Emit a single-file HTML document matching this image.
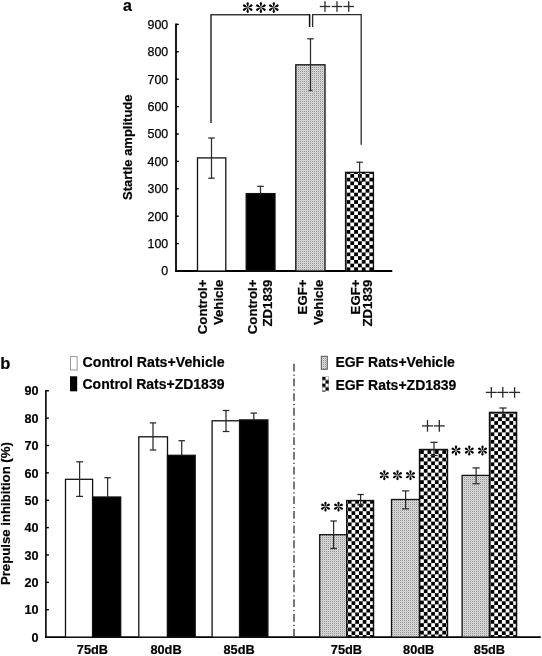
<!DOCTYPE html>
<html><head><meta charset="utf-8"><title>Figure</title>
<style>
html,body{margin:0;padding:0;background:#fff;width:542px;height:656px;overflow:hidden;}
svg{display:block;font-family:"Liberation Sans",sans-serif;will-change:transform;}
</style></head><body>
<svg width="542" height="656" viewBox="0 0 542 656"><defs><pattern id="dt1" patternUnits="userSpaceOnUse" x="296" y="65" width="2" height="2"><rect width="2" height="2" fill="#dcdcdc"/><rect x="0" y="0" width="1" height="1" fill="#909090"/><rect x="1" y="1" width="1" height="1" fill="#c8c8c8"/></pattern><pattern id="ck2" patternUnits="userSpaceOnUse" x="346.5" y="174.0" width="7.64" height="7.47"><rect width="7.64" height="7.47" fill="#fff"/><rect x="3.82" y="0" width="3.82" height="3.735" fill="#000"/><rect x="0" y="3.735" width="3.82" height="3.735" fill="#000"/></pattern><pattern id="dt3" patternUnits="userSpaceOnUse" x="321" y="356" width="2" height="2"><rect width="2" height="2" fill="#dcdcdc"/><rect x="0" y="0" width="1" height="1" fill="#909090"/><rect x="1" y="1" width="1" height="1" fill="#c8c8c8"/></pattern><pattern id="ck4" patternUnits="userSpaceOnUse" x="318.5" y="376.6" width="7.0" height="7.0"><rect width="7.0" height="7.0" fill="#fff"/><rect x="3.5" y="0" width="3.5" height="3.5" fill="#000"/><rect x="0" y="3.5" width="3.5" height="3.5" fill="#000"/></pattern><pattern id="dt5" patternUnits="userSpaceOnUse" x="320" y="535" width="2" height="2"><rect width="2" height="2" fill="#dcdcdc"/><rect x="0" y="0" width="1" height="1" fill="#909090"/><rect x="1" y="1" width="1" height="1" fill="#c8c8c8"/></pattern><pattern id="ck6" patternUnits="userSpaceOnUse" x="347.85" y="503.7" width="7.42" height="7.506"><rect width="7.42" height="7.506" fill="#fff"/><rect x="3.71" y="0" width="3.71" height="3.753" fill="#000"/><rect x="0" y="3.753" width="3.71" height="3.753" fill="#000"/></pattern><pattern id="dt7" patternUnits="userSpaceOnUse" x="392" y="500" width="2" height="2"><rect width="2" height="2" fill="#dcdcdc"/><rect x="0" y="0" width="1" height="1" fill="#909090"/><rect x="1" y="1" width="1" height="1" fill="#c8c8c8"/></pattern><pattern id="ck8" patternUnits="userSpaceOnUse" x="420.1" y="453.9" width="7.4" height="7.524"><rect width="7.4" height="7.524" fill="#fff"/><rect x="3.7" y="0" width="3.7" height="3.762" fill="#000"/><rect x="0" y="3.762" width="3.7" height="3.762" fill="#000"/></pattern><pattern id="dt9" patternUnits="userSpaceOnUse" x="462" y="475" width="2" height="2"><rect width="2" height="2" fill="#dcdcdc"/><rect x="0" y="0" width="1" height="1" fill="#909090"/><rect x="1" y="1" width="1" height="1" fill="#c8c8c8"/></pattern><pattern id="ck10" patternUnits="userSpaceOnUse" x="490.5" y="413.6" width="7.58" height="7.506"><rect width="7.58" height="7.506" fill="#fff"/><rect x="3.79" y="0" width="3.79" height="3.753" fill="#000"/><rect x="0" y="3.753" width="3.79" height="3.753" fill="#000"/></pattern></defs><text x="123" y="10.6" font-family="Liberation Sans" font-size="16" font-weight="bold" text-anchor="start" fill="#000" stroke="#000" stroke-width="0.2">a</text><line x1="176.0" y1="23.4" x2="176.0" y2="271.8" stroke="#000" stroke-width="1.8"/><text x="168.2" y="275.4" font-family="Liberation Sans" font-size="12.4" font-weight="normal" text-anchor="end" fill="#000" stroke="#000" stroke-width="0.25">0</text><line x1="176.0" y1="243.6" x2="178.8" y2="243.6" stroke="#000" stroke-width="1.4"/><text x="168.2" y="248.0" font-family="Liberation Sans" font-size="12.4" font-weight="normal" text-anchor="end" fill="#000" stroke="#000" stroke-width="0.25">100</text><line x1="176.0" y1="216.2" x2="178.8" y2="216.2" stroke="#000" stroke-width="1.4"/><text x="168.2" y="220.6" font-family="Liberation Sans" font-size="12.4" font-weight="normal" text-anchor="end" fill="#000" stroke="#000" stroke-width="0.25">200</text><line x1="176.0" y1="188.8" x2="178.8" y2="188.8" stroke="#000" stroke-width="1.4"/><text x="168.2" y="193.20000000000002" font-family="Liberation Sans" font-size="12.4" font-weight="normal" text-anchor="end" fill="#000" stroke="#000" stroke-width="0.25">300</text><line x1="176.0" y1="161.4" x2="178.8" y2="161.4" stroke="#000" stroke-width="1.4"/><text x="168.2" y="165.8" font-family="Liberation Sans" font-size="12.4" font-weight="normal" text-anchor="end" fill="#000" stroke="#000" stroke-width="0.25">400</text><line x1="176.0" y1="134.0" x2="178.8" y2="134.0" stroke="#000" stroke-width="1.4"/><text x="168.2" y="138.4" font-family="Liberation Sans" font-size="12.4" font-weight="normal" text-anchor="end" fill="#000" stroke="#000" stroke-width="0.25">500</text><line x1="176.0" y1="106.60000000000002" x2="178.8" y2="106.60000000000002" stroke="#000" stroke-width="1.4"/><text x="168.2" y="111.00000000000003" font-family="Liberation Sans" font-size="12.4" font-weight="normal" text-anchor="end" fill="#000" stroke="#000" stroke-width="0.25">600</text><line x1="176.0" y1="79.20000000000002" x2="178.8" y2="79.20000000000002" stroke="#000" stroke-width="1.4"/><text x="168.2" y="83.60000000000002" font-family="Liberation Sans" font-size="12.4" font-weight="normal" text-anchor="end" fill="#000" stroke="#000" stroke-width="0.25">700</text><line x1="176.0" y1="51.80000000000001" x2="178.8" y2="51.80000000000001" stroke="#000" stroke-width="1.4"/><text x="168.2" y="56.20000000000001" font-family="Liberation Sans" font-size="12.4" font-weight="normal" text-anchor="end" fill="#000" stroke="#000" stroke-width="0.25">800</text><line x1="176.0" y1="24.400000000000006" x2="178.8" y2="24.400000000000006" stroke="#000" stroke-width="1.4"/><text x="168.2" y="28.800000000000004" font-family="Liberation Sans" font-size="12.4" font-weight="normal" text-anchor="end" fill="#000" stroke="#000" stroke-width="0.25">900</text><line x1="175.1" y1="271.0" x2="392.3" y2="271.0" stroke="#000" stroke-width="1.8"/><rect x="197.5" y="157.9" width="28.30000000000001" height="113.1" fill="#fff" stroke="#111" stroke-width="1.3"/><rect x="246.2" y="193.6" width="28.80000000000001" height="77.4" fill="#000" stroke="#111" stroke-width="1.3"/><rect x="295.8" y="64.8" width="29.19999999999999" height="206.2" fill="url(#dt1)" stroke="#111" stroke-width="1.3"/><rect x="345.6" y="172.4" width="27.799999999999955" height="98.6" fill="url(#ck2)" stroke="#111" stroke-width="1.4"/><line x1="208.25" y1="138.0" x2="214.75" y2="138.0" stroke="#2a2a2a" stroke-width="1.25"/><line x1="211.5" y1="138.0" x2="211.5" y2="178.2" stroke="#2a2a2a" stroke-width="1.25"/><line x1="208.25" y1="178.2" x2="214.75" y2="178.2" stroke="#2a2a2a" stroke-width="1.25"/><line x1="257.25" y1="186.3" x2="263.75" y2="186.3" stroke="#2a2a2a" stroke-width="1.25"/><line x1="260.5" y1="186.3" x2="260.5" y2="194" stroke="#2a2a2a" stroke-width="1.25"/><line x1="307.25" y1="38.8" x2="313.75" y2="38.8" stroke="#2a2a2a" stroke-width="1.25"/><line x1="310.5" y1="38.8" x2="310.5" y2="91.0" stroke="#2a2a2a" stroke-width="1.25"/><line x1="308.6" y1="90.6" x2="312.4" y2="90.6" stroke="#2a2a2a" stroke-width="1"/><line x1="356.35" y1="162.2" x2="362.85" y2="162.2" stroke="#2a2a2a" stroke-width="1.25"/><line x1="359.6" y1="162.2" x2="359.6" y2="181.5" stroke="#2a2a2a" stroke-width="1.25"/><line x1="356.35" y1="181.5" x2="362.85" y2="181.5" stroke="#2a2a2a" stroke-width="1.25"/><text x="131.9" y="147.2" font-family="Liberation Sans" font-size="13" font-weight="bold" text-anchor="middle" fill="#000" stroke="#000" stroke-width="0.2" transform="rotate(-90 131.9 147.2)">Startle amplitude</text><text x="207.5" y="279.6" font-family="Liberation Sans" font-size="13.2" font-weight="bold" text-anchor="end" fill="#000" stroke="#000" stroke-width="0.2" transform="rotate(-90 207.5 279.6)">Control+</text><text x="222.8" y="279.6" font-family="Liberation Sans" font-size="13.2" font-weight="bold" text-anchor="end" fill="#000" stroke="#000" stroke-width="0.2" transform="rotate(-90 222.8 279.6)">Vehicle</text><text x="257.5" y="279.6" font-family="Liberation Sans" font-size="13.2" font-weight="bold" text-anchor="end" fill="#000" stroke="#000" stroke-width="0.2" transform="rotate(-90 257.5 279.6)">Control+</text><text x="272.2" y="279.6" font-family="Liberation Sans" font-size="13.2" font-weight="bold" text-anchor="end" fill="#000" stroke="#000" stroke-width="0.2" transform="rotate(-90 272.2 279.6)">ZD1839</text><text x="307.5" y="279.6" font-family="Liberation Sans" font-size="13.2" font-weight="bold" text-anchor="end" fill="#000" stroke="#000" stroke-width="0.2" transform="rotate(-90 307.5 279.6)">EGF+</text><text x="322.79999999999995" y="279.6" font-family="Liberation Sans" font-size="13.2" font-weight="bold" text-anchor="end" fill="#000" stroke="#000" stroke-width="0.2" transform="rotate(-90 322.79999999999995 279.6)">Vehicle</text><text x="359.79999999999995" y="279.6" font-family="Liberation Sans" font-size="13.2" font-weight="bold" text-anchor="end" fill="#000" stroke="#000" stroke-width="0.2" transform="rotate(-90 359.79999999999995 279.6)">EGF+</text><text x="371.7" y="279.6" font-family="Liberation Sans" font-size="13.2" font-weight="bold" text-anchor="end" fill="#000" stroke="#000" stroke-width="0.2" transform="rotate(-90 371.7 279.6)">ZD1839</text><polyline points="211,123 211,14.8 309.6,14.8" fill="none" stroke="#3a3a3a" stroke-width="1.6"/><line x1="309.6" y1="14" x2="309.6" y2="27" stroke="#111" stroke-width="1.5"/><polyline points="312.6,27 312.6,14.7 361.2,14.7 361.2,144.8" fill="none" stroke="#2a2a2a" stroke-width="1.3"/><path d="M0,0 C-0.35,-1.2 -1.15,-3.05 -1.15,-4.25 A1.15 1.15 0 0 1 1.15,-4.25 C1.15,-3.05 0.35,-1.2 0,0 Z" transform="translate(247.7,7.6) rotate(0)" fill="#000"/><path d="M0,0 C-0.35,-1.2 -1.15,-3.05 -1.15,-4.25 A1.15 1.15 0 0 1 1.15,-4.25 C1.15,-3.05 0.35,-1.2 0,0 Z" transform="translate(247.7,7.6) rotate(60)" fill="#000"/><path d="M0,0 C-0.35,-1.2 -1.15,-3.05 -1.15,-4.25 A1.15 1.15 0 0 1 1.15,-4.25 C1.15,-3.05 0.35,-1.2 0,0 Z" transform="translate(247.7,7.6) rotate(120)" fill="#000"/><path d="M0,0 C-0.35,-1.2 -1.15,-3.05 -1.15,-4.25 A1.15 1.15 0 0 1 1.15,-4.25 C1.15,-3.05 0.35,-1.2 0,0 Z" transform="translate(247.7,7.6) rotate(180)" fill="#000"/><path d="M0,0 C-0.35,-1.2 -1.15,-3.05 -1.15,-4.25 A1.15 1.15 0 0 1 1.15,-4.25 C1.15,-3.05 0.35,-1.2 0,0 Z" transform="translate(247.7,7.6) rotate(240)" fill="#000"/><path d="M0,0 C-0.35,-1.2 -1.15,-3.05 -1.15,-4.25 A1.15 1.15 0 0 1 1.15,-4.25 C1.15,-3.05 0.35,-1.2 0,0 Z" transform="translate(247.7,7.6) rotate(300)" fill="#000"/><path d="M0,0 C-0.35,-1.2 -1.15,-3.05 -1.15,-4.25 A1.15 1.15 0 0 1 1.15,-4.25 C1.15,-3.05 0.35,-1.2 0,0 Z" transform="translate(260.9,7.6) rotate(0)" fill="#000"/><path d="M0,0 C-0.35,-1.2 -1.15,-3.05 -1.15,-4.25 A1.15 1.15 0 0 1 1.15,-4.25 C1.15,-3.05 0.35,-1.2 0,0 Z" transform="translate(260.9,7.6) rotate(60)" fill="#000"/><path d="M0,0 C-0.35,-1.2 -1.15,-3.05 -1.15,-4.25 A1.15 1.15 0 0 1 1.15,-4.25 C1.15,-3.05 0.35,-1.2 0,0 Z" transform="translate(260.9,7.6) rotate(120)" fill="#000"/><path d="M0,0 C-0.35,-1.2 -1.15,-3.05 -1.15,-4.25 A1.15 1.15 0 0 1 1.15,-4.25 C1.15,-3.05 0.35,-1.2 0,0 Z" transform="translate(260.9,7.6) rotate(180)" fill="#000"/><path d="M0,0 C-0.35,-1.2 -1.15,-3.05 -1.15,-4.25 A1.15 1.15 0 0 1 1.15,-4.25 C1.15,-3.05 0.35,-1.2 0,0 Z" transform="translate(260.9,7.6) rotate(240)" fill="#000"/><path d="M0,0 C-0.35,-1.2 -1.15,-3.05 -1.15,-4.25 A1.15 1.15 0 0 1 1.15,-4.25 C1.15,-3.05 0.35,-1.2 0,0 Z" transform="translate(260.9,7.6) rotate(300)" fill="#000"/><path d="M0,0 C-0.35,-1.2 -1.15,-3.05 -1.15,-4.25 A1.15 1.15 0 0 1 1.15,-4.25 C1.15,-3.05 0.35,-1.2 0,0 Z" transform="translate(273.8,7.6) rotate(0)" fill="#000"/><path d="M0,0 C-0.35,-1.2 -1.15,-3.05 -1.15,-4.25 A1.15 1.15 0 0 1 1.15,-4.25 C1.15,-3.05 0.35,-1.2 0,0 Z" transform="translate(273.8,7.6) rotate(60)" fill="#000"/><path d="M0,0 C-0.35,-1.2 -1.15,-3.05 -1.15,-4.25 A1.15 1.15 0 0 1 1.15,-4.25 C1.15,-3.05 0.35,-1.2 0,0 Z" transform="translate(273.8,7.6) rotate(120)" fill="#000"/><path d="M0,0 C-0.35,-1.2 -1.15,-3.05 -1.15,-4.25 A1.15 1.15 0 0 1 1.15,-4.25 C1.15,-3.05 0.35,-1.2 0,0 Z" transform="translate(273.8,7.6) rotate(180)" fill="#000"/><path d="M0,0 C-0.35,-1.2 -1.15,-3.05 -1.15,-4.25 A1.15 1.15 0 0 1 1.15,-4.25 C1.15,-3.05 0.35,-1.2 0,0 Z" transform="translate(273.8,7.6) rotate(240)" fill="#000"/><path d="M0,0 C-0.35,-1.2 -1.15,-3.05 -1.15,-4.25 A1.15 1.15 0 0 1 1.15,-4.25 C1.15,-3.05 0.35,-1.2 0,0 Z" transform="translate(273.8,7.6) rotate(300)" fill="#000"/><line x1="319.75" y1="6.5" x2="330.25" y2="6.5" stroke="#2a2a2a" stroke-width="1.3"/><line x1="325.0" y1="1.2000000000000002" x2="325.0" y2="11.8" stroke="#2a2a2a" stroke-width="1.3"/><line x1="331.75" y1="6.5" x2="342.25" y2="6.5" stroke="#2a2a2a" stroke-width="1.3"/><line x1="337.0" y1="1.2000000000000002" x2="337.0" y2="11.8" stroke="#2a2a2a" stroke-width="1.3"/><line x1="343.45" y1="6.5" x2="353.95" y2="6.5" stroke="#2a2a2a" stroke-width="1.3"/><line x1="348.7" y1="1.2000000000000002" x2="348.7" y2="11.8" stroke="#2a2a2a" stroke-width="1.3"/><text x="0.2" y="369" font-family="Liberation Sans" font-size="16.5" font-weight="bold" text-anchor="start" fill="#000" stroke="#000" stroke-width="0.2">b</text><rect x="70.5" y="356.6" width="6.6" height="13.4" fill="#fff" stroke="#999" stroke-width="1"/><rect x="70" y="376.3" width="7.2" height="15" fill="#000"/><text x="82.5" y="366.9" font-family="Liberation Sans" font-size="14" font-weight="bold" text-anchor="start" textLength="142.1" lengthAdjust="spacingAndGlyphs" fill="#000" stroke="#000" stroke-width="0.2">Control Rats+Vehicle</text><text x="82.5" y="389.0" font-family="Liberation Sans" font-size="14" font-weight="bold" text-anchor="start" fill="#000" stroke="#000" stroke-width="0.2">Control Rats+ZD1839</text><rect x="321.3" y="356.3" width="6" height="13" fill="url(#dt3)" stroke="#555" stroke-width="1"/><rect x="322" y="376.6" width="7" height="15" fill="url(#ck4)"/><text x="335.4" y="366.5" font-family="Liberation Sans" font-size="14" font-weight="bold" text-anchor="start" fill="#000" stroke="#000" stroke-width="0.2">EGF Rats+Vehicle</text><text x="335.4" y="389.5" font-family="Liberation Sans" font-size="14" font-weight="bold" text-anchor="start" fill="#000" stroke="#000" stroke-width="0.2">EGF Rats+ZD1839</text><line x1="45.9" y1="390.0" x2="45.9" y2="637.9" stroke="#000" stroke-width="1.6"/><text x="38.5" y="641.8000000000001" font-family="Liberation Sans" font-size="12.6" font-weight="bold" text-anchor="end" fill="#000" stroke="#000" stroke-width="0.2">0</text><line x1="45.9" y1="609.73" x2="48.9" y2="609.73" stroke="#000" stroke-width="1.4"/><text x="38.5" y="614.4300000000001" font-family="Liberation Sans" font-size="12.6" font-weight="bold" text-anchor="end" fill="#000" stroke="#000" stroke-width="0.2">10</text><line x1="45.9" y1="582.36" x2="48.9" y2="582.36" stroke="#000" stroke-width="1.4"/><text x="38.5" y="587.0600000000001" font-family="Liberation Sans" font-size="12.6" font-weight="bold" text-anchor="end" fill="#000" stroke="#000" stroke-width="0.2">20</text><line x1="45.9" y1="554.99" x2="48.9" y2="554.99" stroke="#000" stroke-width="1.4"/><text x="38.5" y="559.69" font-family="Liberation Sans" font-size="12.6" font-weight="bold" text-anchor="end" fill="#000" stroke="#000" stroke-width="0.2">30</text><line x1="45.9" y1="527.62" x2="48.9" y2="527.62" stroke="#000" stroke-width="1.4"/><text x="38.5" y="532.32" font-family="Liberation Sans" font-size="12.6" font-weight="bold" text-anchor="end" fill="#000" stroke="#000" stroke-width="0.2">40</text><line x1="45.9" y1="500.25" x2="48.9" y2="500.25" stroke="#000" stroke-width="1.4"/><text x="38.5" y="504.95" font-family="Liberation Sans" font-size="12.6" font-weight="bold" text-anchor="end" fill="#000" stroke="#000" stroke-width="0.2">50</text><line x1="45.9" y1="472.88" x2="48.9" y2="472.88" stroke="#000" stroke-width="1.4"/><text x="38.5" y="477.58" font-family="Liberation Sans" font-size="12.6" font-weight="bold" text-anchor="end" fill="#000" stroke="#000" stroke-width="0.2">60</text><line x1="45.9" y1="445.51" x2="48.9" y2="445.51" stroke="#000" stroke-width="1.4"/><text x="38.5" y="450.21" font-family="Liberation Sans" font-size="12.6" font-weight="bold" text-anchor="end" fill="#000" stroke="#000" stroke-width="0.2">70</text><line x1="45.9" y1="418.14" x2="48.9" y2="418.14" stroke="#000" stroke-width="1.4"/><text x="38.5" y="422.84" font-family="Liberation Sans" font-size="12.6" font-weight="bold" text-anchor="end" fill="#000" stroke="#000" stroke-width="0.2">80</text><line x1="45.9" y1="390.77" x2="48.9" y2="390.77" stroke="#000" stroke-width="1.4"/><text x="38.5" y="395.46999999999997" font-family="Liberation Sans" font-size="12.6" font-weight="bold" text-anchor="end" fill="#000" stroke="#000" stroke-width="0.2">90</text><line x1="45.1" y1="637.1" x2="540.8" y2="637.1" stroke="#000" stroke-width="1.8"/><text x="9.9" y="513.6" font-family="Liberation Sans" font-size="13" font-weight="bold" text-anchor="middle" textLength="143" lengthAdjust="spacingAndGlyphs" fill="#000" stroke="#000" stroke-width="0.2" transform="rotate(-90 9.9 513.6)">Prepulse inhibition (%)</text><line x1="294" y1="363.7" x2="294" y2="637.1" stroke="#555" stroke-width="1.6" stroke-dasharray="7.8 3.0 1.3 2.62"/><rect x="65.5" y="479.3" width="27.099999999999994" height="157.8" fill="#fff" stroke="#111" stroke-width="1.3"/><rect x="92.6" y="497.0" width="28.10000000000001" height="140.10000000000002" fill="#000" stroke="#111" stroke-width="1.3"/><rect x="138.8" y="436.8" width="28.69999999999999" height="200.3" fill="#fff" stroke="#111" stroke-width="1.3"/><rect x="167.5" y="455.3" width="27.69999999999999" height="181.8" fill="#000" stroke="#111" stroke-width="1.3"/><rect x="212.1" y="420.8" width="27.5" height="216.3" fill="#fff" stroke="#111" stroke-width="1.3"/><rect x="239.6" y="419.9" width="28.299999999999983" height="217.20000000000005" fill="#000" stroke="#111" stroke-width="1.3"/><line x1="76.14999999999999" y1="461.8" x2="83.05" y2="461.8" stroke="#2a2a2a" stroke-width="1.25"/><line x1="79.6" y1="461.8" x2="79.6" y2="496.4" stroke="#2a2a2a" stroke-width="1.25"/><line x1="76.14999999999999" y1="496.4" x2="83.05" y2="496.4" stroke="#2a2a2a" stroke-width="1.25"/><line x1="104.35" y1="477.7" x2="110.85" y2="477.7" stroke="#2a2a2a" stroke-width="1.25"/><line x1="107.6" y1="477.7" x2="107.6" y2="497.5" stroke="#2a2a2a" stroke-width="1.25"/><line x1="149.75" y1="422.9" x2="156.25" y2="422.9" stroke="#2a2a2a" stroke-width="1.25"/><line x1="153.0" y1="422.9" x2="153.0" y2="450.0" stroke="#2a2a2a" stroke-width="1.25"/><line x1="149.75" y1="450.0" x2="156.25" y2="450.0" stroke="#2a2a2a" stroke-width="1.25"/><line x1="178.45" y1="440.7" x2="184.95" y2="440.7" stroke="#2a2a2a" stroke-width="1.25"/><line x1="181.7" y1="440.7" x2="181.7" y2="455.8" stroke="#2a2a2a" stroke-width="1.25"/><line x1="222.75" y1="410.5" x2="229.25" y2="410.5" stroke="#2a2a2a" stroke-width="1.25"/><line x1="226.0" y1="410.5" x2="226.0" y2="431.5" stroke="#2a2a2a" stroke-width="1.25"/><line x1="222.75" y1="431.5" x2="229.25" y2="431.5" stroke="#2a2a2a" stroke-width="1.25"/><line x1="250.55" y1="413.1" x2="257.05" y2="413.1" stroke="#2a2a2a" stroke-width="1.25"/><line x1="253.8" y1="413.1" x2="253.8" y2="420.4" stroke="#2a2a2a" stroke-width="1.25"/><rect x="319.7" y="534.7" width="27.100000000000023" height="102.39999999999998" fill="url(#dt5)" stroke="#111" stroke-width="1.3"/><rect x="346.8" y="500.6" width="26.69999999999999" height="136.5" fill="url(#ck6)" stroke="#111" stroke-width="1.5"/><rect x="391.5" y="499.5" width="28.100000000000023" height="137.60000000000002" fill="url(#dt7)" stroke="#111" stroke-width="1.3"/><rect x="419.6" y="449.6" width="27.799999999999955" height="187.5" fill="url(#ck8)" stroke="#111" stroke-width="1.6"/><rect x="462.1" y="475.4" width="27.5" height="161.70000000000005" fill="url(#dt9)" stroke="#111" stroke-width="1.3"/><rect x="489.6" y="412.5" width="26.899999999999977" height="224.60000000000002" fill="url(#ck10)" stroke="#111" stroke-width="1.6"/><line x1="330.35" y1="521.0" x2="336.85" y2="521.0" stroke="#2a2a2a" stroke-width="1.25"/><line x1="333.6" y1="521.0" x2="333.6" y2="548.5" stroke="#2a2a2a" stroke-width="1.25"/><line x1="330.35" y1="548.5" x2="336.85" y2="548.5" stroke="#2a2a2a" stroke-width="1.25"/><line x1="357.35" y1="494.5" x2="363.85" y2="494.5" stroke="#2a2a2a" stroke-width="1.25"/><line x1="360.6" y1="494.5" x2="360.6" y2="505.0" stroke="#2a2a2a" stroke-width="1.25"/><line x1="357.35" y1="505.0" x2="363.85" y2="505.0" stroke="#2a2a2a" stroke-width="1.25"/><line x1="402.0" y1="490.9" x2="409.20000000000005" y2="490.9" stroke="#2a2a2a" stroke-width="1.25"/><line x1="405.6" y1="490.9" x2="405.6" y2="508.8" stroke="#2a2a2a" stroke-width="1.25"/><line x1="402.0" y1="508.8" x2="409.20000000000005" y2="508.8" stroke="#2a2a2a" stroke-width="1.25"/><line x1="430.4" y1="442.3" x2="437.6" y2="442.3" stroke="#2a2a2a" stroke-width="1.25"/><line x1="434.0" y1="442.3" x2="434.0" y2="455.5" stroke="#2a2a2a" stroke-width="1.25"/><line x1="430.4" y1="455.5" x2="437.6" y2="455.5" stroke="#2a2a2a" stroke-width="1.25"/><line x1="472.5" y1="467.9" x2="479.70000000000005" y2="467.9" stroke="#2a2a2a" stroke-width="1.25"/><line x1="476.1" y1="467.9" x2="476.1" y2="483.7" stroke="#2a2a2a" stroke-width="1.25"/><line x1="472.5" y1="483.7" x2="479.70000000000005" y2="483.7" stroke="#2a2a2a" stroke-width="1.25"/><line x1="499.4" y1="408.0" x2="506.6" y2="408.0" stroke="#2a2a2a" stroke-width="1.25"/><line x1="503.0" y1="408.0" x2="503.0" y2="417.5" stroke="#2a2a2a" stroke-width="1.25"/><line x1="499.4" y1="417.5" x2="506.6" y2="417.5" stroke="#2a2a2a" stroke-width="1.25"/><path d="M0,0 C-0.35,-1.2 -1.15,-2.55 -1.15,-3.75 A1.15 1.15 0 0 1 1.15,-3.75 C1.15,-2.55 0.35,-1.2 0,0 Z" transform="translate(325.5,506.7) rotate(0)" fill="#000"/><path d="M0,0 C-0.35,-1.2 -1.15,-2.55 -1.15,-3.75 A1.15 1.15 0 0 1 1.15,-3.75 C1.15,-2.55 0.35,-1.2 0,0 Z" transform="translate(325.5,506.7) rotate(60)" fill="#000"/><path d="M0,0 C-0.35,-1.2 -1.15,-2.55 -1.15,-3.75 A1.15 1.15 0 0 1 1.15,-3.75 C1.15,-2.55 0.35,-1.2 0,0 Z" transform="translate(325.5,506.7) rotate(120)" fill="#000"/><path d="M0,0 C-0.35,-1.2 -1.15,-2.55 -1.15,-3.75 A1.15 1.15 0 0 1 1.15,-3.75 C1.15,-2.55 0.35,-1.2 0,0 Z" transform="translate(325.5,506.7) rotate(180)" fill="#000"/><path d="M0,0 C-0.35,-1.2 -1.15,-2.55 -1.15,-3.75 A1.15 1.15 0 0 1 1.15,-3.75 C1.15,-2.55 0.35,-1.2 0,0 Z" transform="translate(325.5,506.7) rotate(240)" fill="#000"/><path d="M0,0 C-0.35,-1.2 -1.15,-2.55 -1.15,-3.75 A1.15 1.15 0 0 1 1.15,-3.75 C1.15,-2.55 0.35,-1.2 0,0 Z" transform="translate(325.5,506.7) rotate(300)" fill="#000"/><path d="M0,0 C-0.35,-1.2 -1.15,-2.55 -1.15,-3.75 A1.15 1.15 0 0 1 1.15,-3.75 C1.15,-2.55 0.35,-1.2 0,0 Z" transform="translate(338.5,506.7) rotate(0)" fill="#000"/><path d="M0,0 C-0.35,-1.2 -1.15,-2.55 -1.15,-3.75 A1.15 1.15 0 0 1 1.15,-3.75 C1.15,-2.55 0.35,-1.2 0,0 Z" transform="translate(338.5,506.7) rotate(60)" fill="#000"/><path d="M0,0 C-0.35,-1.2 -1.15,-2.55 -1.15,-3.75 A1.15 1.15 0 0 1 1.15,-3.75 C1.15,-2.55 0.35,-1.2 0,0 Z" transform="translate(338.5,506.7) rotate(120)" fill="#000"/><path d="M0,0 C-0.35,-1.2 -1.15,-2.55 -1.15,-3.75 A1.15 1.15 0 0 1 1.15,-3.75 C1.15,-2.55 0.35,-1.2 0,0 Z" transform="translate(338.5,506.7) rotate(180)" fill="#000"/><path d="M0,0 C-0.35,-1.2 -1.15,-2.55 -1.15,-3.75 A1.15 1.15 0 0 1 1.15,-3.75 C1.15,-2.55 0.35,-1.2 0,0 Z" transform="translate(338.5,506.7) rotate(240)" fill="#000"/><path d="M0,0 C-0.35,-1.2 -1.15,-2.55 -1.15,-3.75 A1.15 1.15 0 0 1 1.15,-3.75 C1.15,-2.55 0.35,-1.2 0,0 Z" transform="translate(338.5,506.7) rotate(300)" fill="#000"/><path d="M0,0 C-0.35,-1.2 -1.15,-2.65 -1.15,-3.85 A1.15 1.15 0 0 1 1.15,-3.85 C1.15,-2.65 0.35,-1.2 0,0 Z" transform="translate(384.3,475.2) rotate(0)" fill="#000"/><path d="M0,0 C-0.35,-1.2 -1.15,-2.65 -1.15,-3.85 A1.15 1.15 0 0 1 1.15,-3.85 C1.15,-2.65 0.35,-1.2 0,0 Z" transform="translate(384.3,475.2) rotate(60)" fill="#000"/><path d="M0,0 C-0.35,-1.2 -1.15,-2.65 -1.15,-3.85 A1.15 1.15 0 0 1 1.15,-3.85 C1.15,-2.65 0.35,-1.2 0,0 Z" transform="translate(384.3,475.2) rotate(120)" fill="#000"/><path d="M0,0 C-0.35,-1.2 -1.15,-2.65 -1.15,-3.85 A1.15 1.15 0 0 1 1.15,-3.85 C1.15,-2.65 0.35,-1.2 0,0 Z" transform="translate(384.3,475.2) rotate(180)" fill="#000"/><path d="M0,0 C-0.35,-1.2 -1.15,-2.65 -1.15,-3.85 A1.15 1.15 0 0 1 1.15,-3.85 C1.15,-2.65 0.35,-1.2 0,0 Z" transform="translate(384.3,475.2) rotate(240)" fill="#000"/><path d="M0,0 C-0.35,-1.2 -1.15,-2.65 -1.15,-3.85 A1.15 1.15 0 0 1 1.15,-3.85 C1.15,-2.65 0.35,-1.2 0,0 Z" transform="translate(384.3,475.2) rotate(300)" fill="#000"/><path d="M0,0 C-0.35,-1.2 -1.15,-2.65 -1.15,-3.85 A1.15 1.15 0 0 1 1.15,-3.85 C1.15,-2.65 0.35,-1.2 0,0 Z" transform="translate(397.5,475.2) rotate(0)" fill="#000"/><path d="M0,0 C-0.35,-1.2 -1.15,-2.65 -1.15,-3.85 A1.15 1.15 0 0 1 1.15,-3.85 C1.15,-2.65 0.35,-1.2 0,0 Z" transform="translate(397.5,475.2) rotate(60)" fill="#000"/><path d="M0,0 C-0.35,-1.2 -1.15,-2.65 -1.15,-3.85 A1.15 1.15 0 0 1 1.15,-3.85 C1.15,-2.65 0.35,-1.2 0,0 Z" transform="translate(397.5,475.2) rotate(120)" fill="#000"/><path d="M0,0 C-0.35,-1.2 -1.15,-2.65 -1.15,-3.85 A1.15 1.15 0 0 1 1.15,-3.85 C1.15,-2.65 0.35,-1.2 0,0 Z" transform="translate(397.5,475.2) rotate(180)" fill="#000"/><path d="M0,0 C-0.35,-1.2 -1.15,-2.65 -1.15,-3.85 A1.15 1.15 0 0 1 1.15,-3.85 C1.15,-2.65 0.35,-1.2 0,0 Z" transform="translate(397.5,475.2) rotate(240)" fill="#000"/><path d="M0,0 C-0.35,-1.2 -1.15,-2.65 -1.15,-3.85 A1.15 1.15 0 0 1 1.15,-3.85 C1.15,-2.65 0.35,-1.2 0,0 Z" transform="translate(397.5,475.2) rotate(300)" fill="#000"/><path d="M0,0 C-0.35,-1.2 -1.15,-2.65 -1.15,-3.85 A1.15 1.15 0 0 1 1.15,-3.85 C1.15,-2.65 0.35,-1.2 0,0 Z" transform="translate(410.5,475.2) rotate(0)" fill="#000"/><path d="M0,0 C-0.35,-1.2 -1.15,-2.65 -1.15,-3.85 A1.15 1.15 0 0 1 1.15,-3.85 C1.15,-2.65 0.35,-1.2 0,0 Z" transform="translate(410.5,475.2) rotate(60)" fill="#000"/><path d="M0,0 C-0.35,-1.2 -1.15,-2.65 -1.15,-3.85 A1.15 1.15 0 0 1 1.15,-3.85 C1.15,-2.65 0.35,-1.2 0,0 Z" transform="translate(410.5,475.2) rotate(120)" fill="#000"/><path d="M0,0 C-0.35,-1.2 -1.15,-2.65 -1.15,-3.85 A1.15 1.15 0 0 1 1.15,-3.85 C1.15,-2.65 0.35,-1.2 0,0 Z" transform="translate(410.5,475.2) rotate(180)" fill="#000"/><path d="M0,0 C-0.35,-1.2 -1.15,-2.65 -1.15,-3.85 A1.15 1.15 0 0 1 1.15,-3.85 C1.15,-2.65 0.35,-1.2 0,0 Z" transform="translate(410.5,475.2) rotate(240)" fill="#000"/><path d="M0,0 C-0.35,-1.2 -1.15,-2.65 -1.15,-3.85 A1.15 1.15 0 0 1 1.15,-3.85 C1.15,-2.65 0.35,-1.2 0,0 Z" transform="translate(410.5,475.2) rotate(300)" fill="#000"/><path d="M0,0 C-0.35,-1.2 -1.15,-2.65 -1.15,-3.85 A1.15 1.15 0 0 1 1.15,-3.85 C1.15,-2.65 0.35,-1.2 0,0 Z" transform="translate(456.0,450.6) rotate(0)" fill="#000"/><path d="M0,0 C-0.35,-1.2 -1.15,-2.65 -1.15,-3.85 A1.15 1.15 0 0 1 1.15,-3.85 C1.15,-2.65 0.35,-1.2 0,0 Z" transform="translate(456.0,450.6) rotate(60)" fill="#000"/><path d="M0,0 C-0.35,-1.2 -1.15,-2.65 -1.15,-3.85 A1.15 1.15 0 0 1 1.15,-3.85 C1.15,-2.65 0.35,-1.2 0,0 Z" transform="translate(456.0,450.6) rotate(120)" fill="#000"/><path d="M0,0 C-0.35,-1.2 -1.15,-2.65 -1.15,-3.85 A1.15 1.15 0 0 1 1.15,-3.85 C1.15,-2.65 0.35,-1.2 0,0 Z" transform="translate(456.0,450.6) rotate(180)" fill="#000"/><path d="M0,0 C-0.35,-1.2 -1.15,-2.65 -1.15,-3.85 A1.15 1.15 0 0 1 1.15,-3.85 C1.15,-2.65 0.35,-1.2 0,0 Z" transform="translate(456.0,450.6) rotate(240)" fill="#000"/><path d="M0,0 C-0.35,-1.2 -1.15,-2.65 -1.15,-3.85 A1.15 1.15 0 0 1 1.15,-3.85 C1.15,-2.65 0.35,-1.2 0,0 Z" transform="translate(456.0,450.6) rotate(300)" fill="#000"/><path d="M0,0 C-0.35,-1.2 -1.15,-2.65 -1.15,-3.85 A1.15 1.15 0 0 1 1.15,-3.85 C1.15,-2.65 0.35,-1.2 0,0 Z" transform="translate(469.3,450.6) rotate(0)" fill="#000"/><path d="M0,0 C-0.35,-1.2 -1.15,-2.65 -1.15,-3.85 A1.15 1.15 0 0 1 1.15,-3.85 C1.15,-2.65 0.35,-1.2 0,0 Z" transform="translate(469.3,450.6) rotate(60)" fill="#000"/><path d="M0,0 C-0.35,-1.2 -1.15,-2.65 -1.15,-3.85 A1.15 1.15 0 0 1 1.15,-3.85 C1.15,-2.65 0.35,-1.2 0,0 Z" transform="translate(469.3,450.6) rotate(120)" fill="#000"/><path d="M0,0 C-0.35,-1.2 -1.15,-2.65 -1.15,-3.85 A1.15 1.15 0 0 1 1.15,-3.85 C1.15,-2.65 0.35,-1.2 0,0 Z" transform="translate(469.3,450.6) rotate(180)" fill="#000"/><path d="M0,0 C-0.35,-1.2 -1.15,-2.65 -1.15,-3.85 A1.15 1.15 0 0 1 1.15,-3.85 C1.15,-2.65 0.35,-1.2 0,0 Z" transform="translate(469.3,450.6) rotate(240)" fill="#000"/><path d="M0,0 C-0.35,-1.2 -1.15,-2.65 -1.15,-3.85 A1.15 1.15 0 0 1 1.15,-3.85 C1.15,-2.65 0.35,-1.2 0,0 Z" transform="translate(469.3,450.6) rotate(300)" fill="#000"/><path d="M0,0 C-0.35,-1.2 -1.15,-2.65 -1.15,-3.85 A1.15 1.15 0 0 1 1.15,-3.85 C1.15,-2.65 0.35,-1.2 0,0 Z" transform="translate(482.5,450.6) rotate(0)" fill="#000"/><path d="M0,0 C-0.35,-1.2 -1.15,-2.65 -1.15,-3.85 A1.15 1.15 0 0 1 1.15,-3.85 C1.15,-2.65 0.35,-1.2 0,0 Z" transform="translate(482.5,450.6) rotate(60)" fill="#000"/><path d="M0,0 C-0.35,-1.2 -1.15,-2.65 -1.15,-3.85 A1.15 1.15 0 0 1 1.15,-3.85 C1.15,-2.65 0.35,-1.2 0,0 Z" transform="translate(482.5,450.6) rotate(120)" fill="#000"/><path d="M0,0 C-0.35,-1.2 -1.15,-2.65 -1.15,-3.85 A1.15 1.15 0 0 1 1.15,-3.85 C1.15,-2.65 0.35,-1.2 0,0 Z" transform="translate(482.5,450.6) rotate(180)" fill="#000"/><path d="M0,0 C-0.35,-1.2 -1.15,-2.65 -1.15,-3.85 A1.15 1.15 0 0 1 1.15,-3.85 C1.15,-2.65 0.35,-1.2 0,0 Z" transform="translate(482.5,450.6) rotate(240)" fill="#000"/><path d="M0,0 C-0.35,-1.2 -1.15,-2.65 -1.15,-3.85 A1.15 1.15 0 0 1 1.15,-3.85 C1.15,-2.65 0.35,-1.2 0,0 Z" transform="translate(482.5,450.6) rotate(300)" fill="#000"/><line x1="422.0" y1="425.9" x2="433.0" y2="425.9" stroke="#2a2a2a" stroke-width="1.3"/><line x1="427.5" y1="420.09999999999997" x2="427.5" y2="431.7" stroke="#2a2a2a" stroke-width="1.3"/><line x1="433.8" y1="425.9" x2="444.8" y2="425.9" stroke="#2a2a2a" stroke-width="1.3"/><line x1="439.3" y1="420.09999999999997" x2="439.3" y2="431.7" stroke="#2a2a2a" stroke-width="1.3"/><line x1="485.8" y1="392.4" x2="496.8" y2="392.4" stroke="#2a2a2a" stroke-width="1.3"/><line x1="491.3" y1="387.09999999999997" x2="491.3" y2="397.7" stroke="#2a2a2a" stroke-width="1.3"/><line x1="497.3" y1="392.4" x2="508.3" y2="392.4" stroke="#2a2a2a" stroke-width="1.3"/><line x1="502.8" y1="387.09999999999997" x2="502.8" y2="397.7" stroke="#2a2a2a" stroke-width="1.3"/><line x1="509.1" y1="392.4" x2="520.1" y2="392.4" stroke="#2a2a2a" stroke-width="1.3"/><line x1="514.6" y1="387.09999999999997" x2="514.6" y2="397.7" stroke="#2a2a2a" stroke-width="1.3"/><text x="92.4" y="653.6" font-family="Liberation Sans" font-size="12" font-weight="bold" text-anchor="middle" textLength="31.2" lengthAdjust="spacingAndGlyphs" fill="#000" stroke="#000" stroke-width="0.2">75dB</text><text x="166.0" y="653.6" font-family="Liberation Sans" font-size="12" font-weight="bold" text-anchor="middle" textLength="31.2" lengthAdjust="spacingAndGlyphs" fill="#000" stroke="#000" stroke-width="0.2">80dB</text><text x="239.1" y="653.6" font-family="Liberation Sans" font-size="12" font-weight="bold" text-anchor="middle" textLength="31.2" lengthAdjust="spacingAndGlyphs" fill="#000" stroke="#000" stroke-width="0.2">85dB</text><text x="346.4" y="653.6" font-family="Liberation Sans" font-size="12" font-weight="bold" text-anchor="middle" textLength="31.2" lengthAdjust="spacingAndGlyphs" fill="#000" stroke="#000" stroke-width="0.2">75dB</text><text x="418.7" y="653.6" font-family="Liberation Sans" font-size="12" font-weight="bold" text-anchor="middle" textLength="31.2" lengthAdjust="spacingAndGlyphs" fill="#000" stroke="#000" stroke-width="0.2">80dB</text><text x="489.4" y="653.6" font-family="Liberation Sans" font-size="12" font-weight="bold" text-anchor="middle" textLength="31.2" lengthAdjust="spacingAndGlyphs" fill="#000" stroke="#000" stroke-width="0.2">85dB</text></svg>
</body></html>
